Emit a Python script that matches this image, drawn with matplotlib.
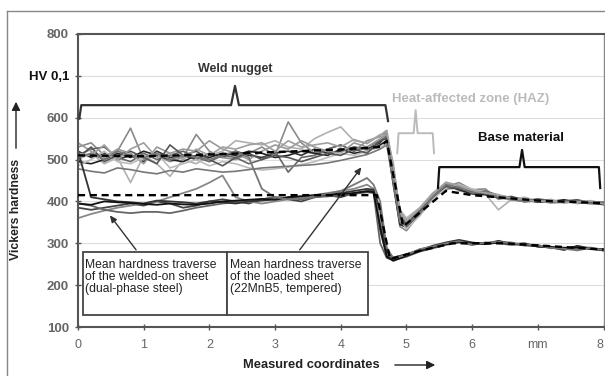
import numpy as np
import matplotlib
matplotlib.use("Agg")
import matplotlib.pyplot as plt
from matplotlib.lines import Line2D
from matplotlib.patches import Rectangle, FancyArrowPatch

plt.rcParams['font.family'] = ['Liberation Sans', 'DejaVu Sans']

# ---------------- data ----------------
x_up_weld = [0.0, 0.2, 0.4, 0.6, 0.8, 1.0, 1.2, 1.4, 1.6, 1.8, 2.0, 2.2,
             2.4, 2.6, 2.8, 3.0, 3.2, 3.4, 3.6, 3.8, 4.0, 4.2, 4.4, 4.6]
x_up_base = [4.7, 4.8, 4.9, 5.0, 5.2, 5.4, 5.6, 5.8, 6.0, 6.2, 6.4, 6.6,
             6.8, 7.0, 7.2, 7.4, 7.6, 7.8, 8.0]

up_weld = [
    [520,505,515,500,510,495,520,505,510,500,515,505,520,510,505,515,520,510,525,515,520,530,525,540],
    [530,540,510,520,575,500,510,495,505,560,520,505,500,515,530,510,590,540,515,525,535,520,545,555],
    [500,515,490,505,445,510,490,460,500,490,510,520,545,540,535,545,530,525,550,565,578,545,540,560],
    [510,525,530,505,495,515,500,510,520,505,495,510,505,490,500,520,470,505,510,525,535,520,530,545],
    [495,490,500,515,505,520,510,500,495,510,505,515,510,520,515,505,510,520,515,510,525,515,520,535],
    [540,520,505,525,515,490,530,515,525,520,545,525,515,500,520,535,525,545,530,520,515,540,530,550],
    [485,500,520,495,490,505,515,480,490,500,485,495,490,480,475,478,482,488,495,505,515,510,520,530],
    [505,530,495,510,520,505,490,535,510,520,500,485,505,515,500,510,505,495,505,515,510,525,515,545],
    [478,472,468,480,476,470,466,474,470,478,474,470,472,476,480,482,484,486,488,492,498,505,512,525],
    [515,510,535,500,525,540,505,515,500,525,510,530,525,535,540,520,545,530,535,540,530,548,538,558],
]
up_base = [
    [560,470,360,345,375,415,440,430,425,420,412,408,405,402,400,398,400,396,394],
    [565,450,340,330,370,410,435,445,428,430,405,410,402,404,398,402,395,398,392],
    [550,480,380,360,385,420,445,425,420,418,380,405,410,400,405,396,402,400,398],
    [555,460,350,340,372,412,430,432,422,425,415,404,400,406,402,400,397,395,396],
    [545,440,345,338,368,408,438,428,418,416,410,406,404,398,400,404,398,396,393],
    [560,490,370,350,380,418,442,436,426,422,414,410,398,402,396,398,401,399,397],
    [540,455,355,335,365,405,432,440,430,420,412,402,406,400,403,399,396,402,395],
    [550,475,365,345,378,414,436,430,424,418,408,412,403,405,399,401,404,397,398],
    [535,445,350,342,370,410,440,434,420,424,410,404,400,402,398,400,398,395,396],
    [570,480,375,355,382,416,446,438,426,420,416,408,405,400,402,397,399,401,394],
]
up_colors = ['#333333', '#8a8a8a', '#b0b0b0', '#666666', '#222222',
             '#999999', '#bbbbbb', '#555555', '#777777', '#a0a0a0']

x_lo_weld = [0.0, 0.2, 0.4, 0.6, 0.8, 1.0, 1.2, 1.4, 1.6, 1.8, 2.0, 2.2,
             2.4, 2.6, 2.8, 3.0, 3.2, 3.4, 3.6, 3.8, 4.0, 4.2, 4.4]
x_lo_base = [4.5, 4.6, 4.7, 4.8, 5.0, 5.2, 5.4, 5.6, 5.8, 6.0, 6.2, 6.4,
             6.6, 6.8, 7.0, 7.2, 7.4, 7.6, 7.8, 8.0]
lo_weld = [
    [385,380,385,390,395,390,400,395,385,390,400,405,400,395,405,410,405,400,410,415,410,420,425],
    [360,370,378,385,390,395,400,410,420,430,445,462,410,400,395,400,405,410,415,420,425,430,440],
    [395,390,380,375,372,375,375,372,378,385,390,395,398,400,405,410,408,405,410,412,415,418,422],
    [520,410,405,400,398,395,402,400,398,395,400,398,395,400,402,405,410,412,415,418,420,425,430],
    [395,392,400,398,396,394,392,395,393,392,395,400,402,404,406,404,410,412,414,416,418,420,424],
    [505,515,500,520,510,505,515,500,510,505,500,510,520,505,430,410,405,408,412,418,425,440,456],
]
lo_base = [
    [425,330,270,262,272,282,290,298,304,300,298,302,300,296,294,290,288,292,286,284],
    [430,350,275,265,270,285,292,300,306,298,300,304,302,294,296,288,290,286,290,282],
    [420,300,265,260,268,280,288,296,302,296,302,300,296,298,292,292,286,290,288,286],
    [428,380,280,266,274,284,294,302,308,302,298,306,298,300,292,290,284,294,288,283],
    [422,340,268,258,270,282,290,298,303,300,299,301,299,296,293,291,289,290,287,285],
    [440,400,290,264,272,286,292,300,305,297,301,303,300,297,295,289,287,283,289,284],
]
lo_colors = ['#444444', '#888888', '#666666', '#333333', '#111111', '#777777']

mean_up_x = [0.0, 1.0, 2.0, 3.0, 4.0, 4.6, 4.7, 4.95, 5.6, 6.0, 7.0, 8.0]
mean_up_y = [510, 508, 512, 518, 524, 530, 545, 340, 425, 415, 402, 396]
mean_lo_x = [0.0, 4.55, 4.75, 5.2, 5.7, 6.5, 7.0, 8.0]
mean_lo_y = [415, 415, 262, 282, 300, 300, 295, 285]

y_ticks = [100, 200, 300, 400, 500, 600, 700, 800]
y_labels = ['100', '200', '300', '400', '500', '600', 'HV 0,1', '800']
x_ticks = [0, 1, 2, 3, 4, 5, 6, 7, 8]
x_labels = ['0', '1', '2', '3', '4', '5', '6', 'mm', '8']

# ---------------- figure ----------------
W, H = 605, 376
fig = plt.figure(figsize=(W / 100, H / 100), dpi=100)
ax = fig.add_axes([78 / W, 1 - 327 / H, (603.5 - 78) / W, (327 - 34) / H])
ax.set_xlim(0, 8)
ax.set_ylim(100, 800)

for yv in [200, 300, 400, 500, 600, 700]:
    ax.axhline(yv, color='#dddddd', lw=0.8, zorder=0)

for wv, bv, c in zip(up_weld, up_base, up_colors):
    ax.plot(x_up_weld + x_up_base, wv + bv, color=c, lw=1.2, zorder=2)
for wv, bv, c in zip(lo_weld, lo_base, lo_colors):
    ax.plot(x_lo_weld + x_lo_base, wv + bv, color=c, lw=1.3, zorder=2)

ax.plot(mean_up_x, mean_up_y, color='black', lw=1.7, ls=(0, (3, 2)), zorder=3)
ax.plot(mean_lo_x, mean_lo_y, color='black', lw=1.7, ls=(0, (3, 2)), zorder=3)

# brackets
ax.plot([0.02, 0.05, 2.33, 2.39, 2.45, 4.68, 4.72],
        [598, 630, 630, 676, 630, 630, 592], color='#333333', lw=1.6, zorder=4)
ax.plot([4.86, 4.88, 5.11, 5.14, 5.17, 5.40, 5.42],
        [515, 563, 563, 618, 563, 563, 515], color='#bbbbbb', lw=1.4, zorder=4)
ax.plot([5.48, 5.50, 6.72, 6.76, 6.80, 7.93, 7.95],
        [432, 482, 482, 523, 482, 482, 432], color='#111111', lw=1.6, zorder=4)

ax.text(2.39, 716, 'Weld nugget', ha='center', va='center', fontsize=9,
        fontweight='bold', color='#333333')
ax.text(5.97, 645, 'Heat-affected zone (HAZ)', ha='center', va='center',
        fontsize=9.5, fontweight='bold', color='#bbbbbb')
ax.text(6.74, 551, 'Base material', ha='center', va='center', fontsize=9.5,
        fontweight='bold', color='#111111')

# boxes
for x0, x1 in [(0.08, 2.27), (2.27, 4.41)]:
    ax.add_patch(Rectangle((x0, 129), x1 - x0, 150, facecolor='white',
                           edgecolor='#444444', lw=1.3, zorder=5))
ax.text(0.11, 263, 'Mean hardness traverse\nof the welded-on sheet\n(dual-phase steel)',
        ha='left', va='top', fontsize=8.7, color='#222222', linespacing=1.03, zorder=6)
ax.text(2.31, 263, 'Mean hardness traverse\nof the loaded sheet\n(22MnB5, tempered)',
        ha='left', va='top', fontsize=8.7, color='#222222', linespacing=1.03, zorder=6)

arrow_kw = dict(arrowstyle='-|>,head_length=0.4,head_width=0.18', color='#333333', lw=1.0)
ax.annotate('', xy=(0.46, 372), xytext=(0.91, 279), arrowprops=arrow_kw, zorder=6)
ax.annotate('', xy=(4.34, 487), xytext=(3.35, 279), arrowprops=arrow_kw, zorder=6)

# axes styling
for s in ['left', 'bottom', 'top']:
    ax.spines[s].set_color('#555555')
    ax.spines[s].set_linewidth(1.5)
ax.spines['right'].set_color('#888888')
ax.spines['right'].set_linewidth(1.0)

ax.set_yticks(y_ticks)
ax.set_yticklabels(y_labels)
ax.set_xticks(x_ticks)
ax.set_xticklabels(x_labels)
ax.tick_params(axis='y', direction='inout', length=5, width=1, color='#555555',
               labelsize=9.5, labelcolor='#666666', pad=4)
ax.tick_params(axis='x', direction='inout', length=5, width=1, color='#555555',
               labelsize=9, labelcolor='#666666', pad=6)
for lab in ax.get_yticklabels():
    lab.set_fontweight('bold')
    if lab.get_text() == 'HV 0,1':
        lab.set_color('#111111')
for lab in ax.get_xticklabels():
    if lab.get_text() == '8':
        lab.set_horizontalalignment('right')

# axis labels with arrows (figure coordinates)
fig.text(16 / W, 1 - 209 / H, 'Vickers hardness', rotation=90, ha='center', va='center',
         fontsize=8.8, fontweight='bold', color='#222222')
fig.text(311 / W, 1 - 365 / H, 'Measured coordinates', ha='center', va='center',
         fontsize=9.3, fontweight='bold', color='#222222')
farrow = dict(arrowstyle='-|>,head_length=0.5,head_width=0.25', color='#222222',
              lw=1.0, mutation_scale=10)
fig.add_artist(FancyArrowPatch((16 / W, 1 - 151 / H), (16 / W, 1 - 99 / H),
               transform=fig.transFigure, **farrow))
fig.add_artist(FancyArrowPatch((392 / W, 1 - 365 / H), (438 / W, 1 - 365 / H),
               transform=fig.transFigure, **farrow))

# outer frame
fig.add_artist(Line2D([7 / W, 1], [1 - 11 / H, 1 - 11 / H], transform=fig.transFigure,
                      color='#888888', lw=1.0))
fig.add_artist(Line2D([7 / W, 7 / W], [0, 1 - 11 / H], transform=fig.transFigure,
                      color='#888888', lw=1.0))

fig.savefig('out.png', dpi=100)
